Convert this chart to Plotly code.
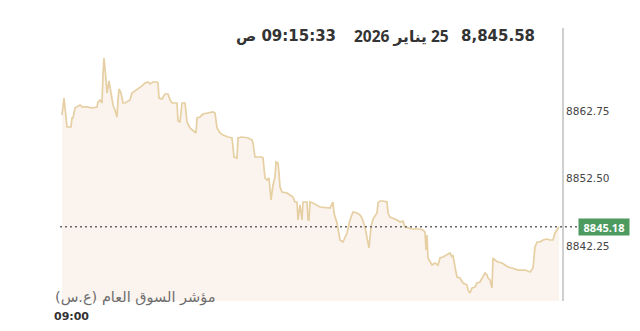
import plotly.graph_objects as go

# minutes since session start
minutes = [1, 2, 3, 3.5, 5.5, 6, 6.5, 7.5, 10, 11, 13.5, 16, 18.5, 19, 20, 21, 21.5, 22, 23, 23.5,
           24, 24.5, 25, 26, 26.5, 27.5, 28.5, 29, 29.5, 30.5, 31.5, 32.5, 35, 36, 37.5, 39, 41, 42.5,
           44, 45, 46.5, 48.5, 49, 49.5, 51, 52.5, 54, 55, 56, 58.5, 59, 60, 61, 62.5, 63.5, 65, 66.5,
           68, 68.5, 70, 71.5, 74, 75, 76.5, 77.5, 78.5, 80, 81.5, 84, 86, 87, 88.5, 89, 91, 94, 96,
           96.5, 97.5, 101, 101.5, 102.5, 103.5, 104.5, 105.5, 106.5, 107.5, 108, 109, 109.5, 110, 111,
           113.5, 115, 116.5, 117.5, 118.5, 119, 120, 121, 121.5, 123.5, 124, 124.5, 125, 126.5, 128.5,
           130, 135, 136.5, 137, 138.5, 140, 141.5, 143.5, 145, 146.5, 148.5, 150, 151, 152.5, 154,
           154.5, 155.5, 156.5, 158.5, 159, 160, 161.5, 163.5, 164, 165, 166.5, 168.5, 170, 171.5,
           172.5, 174, 176.5, 180, 181.5, 182.5, 183, 183.5, 184, 186, 187.5, 189, 190, 191.5, 193.5,
           195, 196, 196.5, 197.5, 198.5, 200, 201.5, 203.5, 204, 205, 206, 207.5, 208.5, 210, 211,
           211.5, 212.5, 213.5, 214, 215, 216, 216.5, 217.5, 219, 221, 222.5, 224, 226, 229, 232.5,
           235, 236.5, 237.5, 238.5, 240, 241.5, 243.5, 245, 246.5, 247.5, 248.5, 249.5]

prices = [8862.14, 8864.72, 8861.84, 8860.32, 8860.32, 8861.69, 8861.69, 8863.21, 8863.66, 8863.36,
          8863.36, 8863.21, 8863.36, 8864.12, 8864.42, 8863.96, 8868.22, 8870.80, 8867.46, 8865.48,
          8866.39, 8867.31, 8866.39, 8863.96, 8863.66, 8862.90, 8861.84, 8864.42, 8866.09, 8865.48,
          8863.96, 8863.96, 8864.42, 8865.48, 8865.79, 8866.09, 8866.55, 8867.00, 8867.15, 8866.85,
          8867.15, 8867.15, 8867.00, 8864.72, 8864.57, 8865.33, 8865.33, 8864.42, 8863.96, 8863.96,
          8861.23, 8861.08, 8863.96, 8863.96, 8861.08, 8860.17, 8859.71, 8859.41, 8861.69, 8861.84,
          8862.29, 8862.45, 8862.60, 8862.60, 8862.45, 8860.17, 8859.41, 8859.11, 8858.80, 8858.65,
          8855.76, 8855.61, 8858.65, 8858.80, 8858.65, 8858.35, 8857.89, 8855.76, 8855.76, 8855.61,
          8852.58, 8852.27, 8852.58, 8849.23, 8851.51, 8852.73, 8855.01, 8854.85, 8853.33, 8851.21,
          8850.45, 8850.30, 8849.99, 8849.69, 8848.93, 8848.93, 8846.20, 8848.48, 8846.20, 8848.93,
          8848.93, 8846.20, 8846.20, 8848.93, 8848.78, 8848.48, 8848.17, 8848.02, 8848.93, 8847.26,
          8845.74, 8843.16, 8842.86, 8844.22, 8846.20, 8847.41, 8847.26, 8846.96, 8846.50, 8845.13,
          8842.86, 8841.95, 8845.13, 8846.35, 8847.26, 8848.78, 8849.08, 8849.08, 8848.93, 8847.26,
          8846.65, 8846.50, 8846.20, 8845.89, 8846.05, 8845.13, 8844.98, 8844.83, 8844.83, 8844.68,
          8844.37, 8841.64, 8843.92, 8840.43, 8839.36, 8839.67, 8839.36, 8840.43, 8840.58, 8840.88,
          8841.19, 8840.58, 8840.88, 8839.06, 8837.54, 8837.39, 8836.63, 8836.33, 8835.57, 8835.11,
          8835.87, 8836.02, 8836.63, 8836.78, 8837.39, 8837.54, 8838.15, 8837.84, 8837.39, 8837.09,
          8835.87, 8840.43, 8840.12, 8839.82, 8839.67, 8839.36, 8839.06, 8838.91, 8838.60, 8838.60,
          8838.30, 8838.91, 8842.10, 8842.86, 8842.86, 8843.16, 8843.31, 8843.16, 8843.16, 8844.22,
          8844.68, 8845.18]

y_ticks = [8842.25, 8852.50, 8862.75]
y_tick_labels = ["8842.25", "8852.50", "8862.75"]
last_price = 8845.18
last_label = "8845.18"
header_price = "8,845.58"
header_date = "\u200f25 يناير 2026\u200f"
header_time = "\u200f09:15:33 ص\u200f"
index_name = "\u200fمؤشر السوق العام (ع.س)\u200f"
x_label = "09:00"

x_range = [0, 251]
y_range = [8833.90, 8875.35]

fig = go.Figure()
fig.add_trace(go.Scatter(
    x=minutes, y=prices, mode="lines",
    line=dict(color="#e6cfa3", width=1.7),
    fill="tozeroy", fillcolor="#fbf4ee",
    hoverinfo="skip", showlegend=False,
))

fig.update_layout(
    width=640, height=331,
    margin=dict(l=60, r=78, t=28, b=30),
    paper_bgcolor="white", plot_bgcolor="white",
    xaxis=dict(range=x_range, visible=False, fixedrange=True),
    yaxis=dict(
        range=y_range, side="right", showgrid=False, zeroline=False,
        showline=True, linecolor="#cfcfcf", linewidth=2,
        tickvals=y_ticks, ticktext=y_tick_labels, ticks="",
        tickfont=dict(family="DejaVu Sans", size=10.5, color="#454545"),
    ),
    font=dict(family="DejaVu Sans"),
)

# dotted last-price line
fig.add_shape(type="line", xref="paper", yref="y", x0=0, x1=1.032, y0=last_price, y1=last_price,
              line=dict(color="#666666", width=1.5, dash="2px,3px"), layer="above")

# price tag
fig.add_annotation(xref="paper", yref="y", x=1.032, y=last_price, xanchor="left", yanchor="middle",
                   text="<b>%s</b>" % last_label, showarrow=False,
                   font=dict(family="Open Sans", size=11, color="white"),
                   bgcolor="#4c9a5f", width=48, height=14, borderpad=1)

hdr_font = dict(family="DejaVu Sans", size=15, color="#333333", weight="bold")
date_font = dict(family="Open Sans, DejaVu Sans", size=15.5, color="#333333", weight="bold")
hy = 0.971
fig.add_annotation(xref="paper", yref="paper", x=0.9502, y=hy, xanchor="right", yanchor="middle",
                   text=header_price, showarrow=False, font=hdr_font)
fig.add_annotation(xref="paper", yref="paper", x=0.7789, y=hy, xanchor="right", yanchor="middle",
                   text=header_date, showarrow=False, font=date_font)
fig.add_annotation(xref="paper", yref="paper", x=0.5538, y=hy, xanchor="right", yanchor="middle",
                   text=header_time, showarrow=False, font=hdr_font)

fig.add_annotation(xref="paper", yref="paper", x=-0.0139, y=0.011, xanchor="left", yanchor="middle",
                   text=index_name, showarrow=False,
                   font=dict(family="DejaVu Sans", size=14.5, color="#6e6e6e"))
fig.add_annotation(xref="paper", yref="paper", x=0.0239, y=-0.055, xanchor="center", yanchor="middle",
                   text=x_label, showarrow=False,
                   font=dict(family="DejaVu Sans", size=11, color="#333333", weight="bold"))

fig.write_html("out.html")
